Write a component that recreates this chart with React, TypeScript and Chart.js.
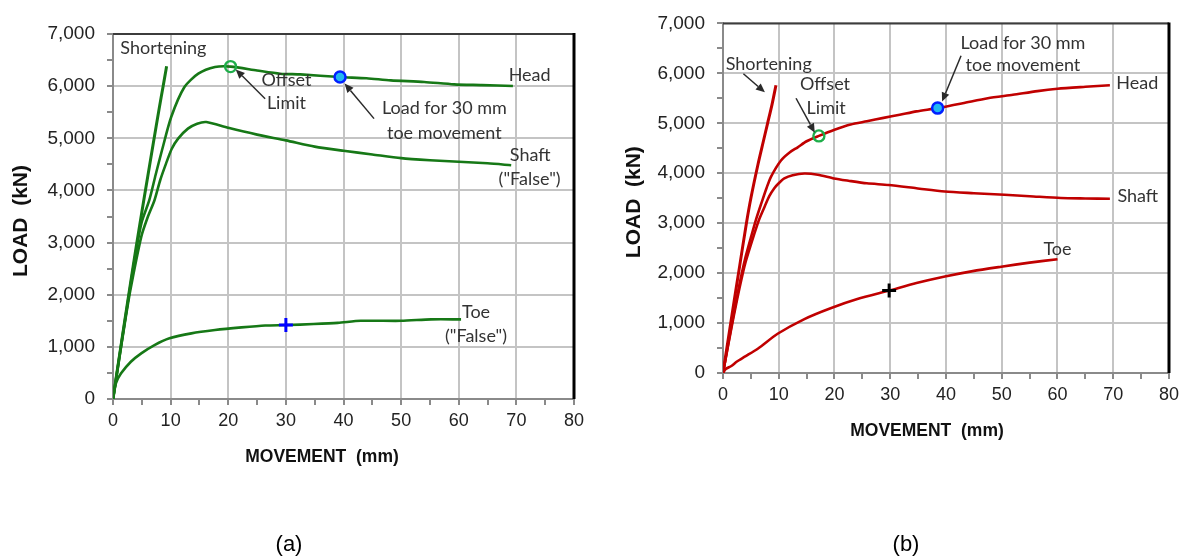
import React, { useEffect, useRef } from "react";
import { Chart, registerables } from "chart.js";

Chart.register(...registerables);

// ---------- Panel (a): movement (mm) vs load (kN) ----------
const shortA_mm = [0, 1, 2, 3, 4, 5, 6, 7, 8, 8.7, 9.1, 9.3];
const shortA_kN = [0, 740, 1470, 2190, 2900, 3580, 4250, 4910, 5560, 6000, 6250, 6380];

const headA_mm = [0, 1, 2, 3, 4.1, 5, 6.3, 7.4, 8.5, 10.1, 12.4, 14.8, 17.7, 20.4, 25, 29, 32.5, 39.4, 44, 48.2, 54, 59.2, 64, 69.4];
const headA_kN = [0, 740, 1460, 2160, 2900, 3400, 3812, 4300, 4770, 5408, 5983, 6239, 6366, 6375, 6300, 6239, 6225, 6175, 6150, 6111, 6080, 6034, 6020, 6002];

const shaftA_mm = [0, 1, 2, 3, 4.9, 6, 7.2, 8.2, 9.2, 10.2, 11.3, 13.0, 14.6, 16.2, 20, 25, 30, 35, 40, 45, 50, 55, 60, 65, 69.1];
const shaftA_kN = [0, 720, 1420, 2080, 3109, 3480, 3812, 4200, 4515, 4800, 4994, 5185, 5280, 5312, 5200, 5070, 4960, 4840, 4760, 4690, 4620, 4580, 4550, 4520, 4483];

const toeA_mm = [0, 0.5, 1.4, 3.1, 4.9, 7.2, 9.8, 13.6, 17.7, 22.3, 26.4, 30.1, 34.8, 39, 43, 50, 55.2, 60.4];
const toeA_kN = [0, 300, 492, 715, 875, 1034, 1163, 1259, 1322, 1373, 1410, 1418, 1437, 1460, 1500, 1500, 1527, 1527];

const offsetA = [20.4, 6375];
const load30A = [39.4, 6175];
const toe30A = [30, 1418];

// ---------- Panel (b) ----------
const shortB_mm = [0, 1, 2, 3, 4.2, 5, 6.3, 7.2, 8, 8.8, 9.5];
const shortB_kN = [0, 720, 1440, 2150, 3000, 3500, 4190, 4620, 5000, 5380, 5762];

const headB_mm = [0, 1, 2, 3, 4, 5.1, 6, 6.9, 7.8, 8.6, 10.4, 12, 13.4, 15, 17.2, 20, 22.9, 25.8, 28.8, 31.7, 34.7, 38.5, 43, 47.5, 52, 56.4, 60, 65, 69.4];
const headB_kN = [0, 620, 1230, 1800, 2300, 2750, 3100, 3405, 3700, 3929, 4256, 4420, 4519, 4640, 4747, 4870, 4976, 5040, 5108, 5170, 5238, 5304, 5400, 5501, 5570, 5644, 5690, 5730, 5762];

const shaftB_mm = [0, 1, 2, 3, 4, 5.7, 6.5, 7.5, 8.3, 9.2, 10, 11, 12.5, 14.6, 17, 19.9, 22.5, 25.8, 29.7, 34.7, 39.8, 45, 50.5, 55, 60.6, 65, 69.4];
const shaftB_kN = [0, 600, 1180, 1720, 2200, 2815, 3080, 3340, 3540, 3700, 3800, 3896, 3960, 3994, 3970, 3896, 3850, 3798, 3765, 3700, 3634, 3600, 3568, 3540, 3503, 3495, 3490];

const toeB_mm = [0, 0.5, 1.5, 2.5, 3.9, 6.3, 9.8, 14.6, 19.3, 24.1, 29.8, 34.7, 39.8, 44.8, 49.9, 55, 60];
const toeB_kN = [0, 80, 140, 230, 326, 491, 786, 1080, 1297, 1480, 1650, 1800, 1931, 2040, 2128, 2210, 2279];

const offsetB = [17.2, 4747];
const load30B = [38.5, 5304];
const toe30B = [29.8, 1650];

// ---------- Axis setup ----------
const X_MIN = 0, X_MAX = 80, X_STEP = 5, X_LABEL_EVERY = 10;
const Y_MIN = 0, Y_MAX = 7000, Y_STEP = 500, Y_LABEL_EVERY = 1000;
const X_TITLE = "MOVEMENT  (mm)";
const Y_TITLE = "LOAD  (kN)";

const SANS = "'Liberation Sans', Arial, sans-serif";
const NOTE_FONT = "Lato, 'Open Sans', sans-serif";
const GRID = "#c4c4c4";
const AXIS = "#8a8a8a";

type Note = { text: string; at: number[] };
type Arrow = { from: number[]; to: number[] };

const pts = (xs: number[], ys: number[]) => xs.map((x, i) => ({ x, y: ys[i] }));

const panelA = {
  color: "#167816",
  width: 600,
  left: 0,
  padding: { left: 0, top: 34, right: 26, bottom: 0 },
  yAxisWidth: 113,
  xAxisHeight: 160,
  series: [
    pts(shortA_mm, shortA_kN),
    pts(headA_mm, headA_kN),
    pts(shaftA_mm, shaftA_kN),
    pts(toeA_mm, toeA_kN),
  ],
  offset: offsetA,
  load30: load30A,
  toe30: toe30A,
  toeMarkColor: "#0000ff",
  notes: [
    { text: "Shortening", at: [8.75, 6724] },
    { text: "Offset", at: [30.1, 6111] },
    { text: "Limit", at: [30.1, 5670] },
    { text: "Load for 30 mm", at: [57.5, 5575] },
    { text: "toe movement", at: [57.5, 5090] },
    { text: "Head", at: [72.3, 6207] },
    { text: "Shaft", at: [72.4, 4674] },
    { text: '("False")', at: [72.3, 4209] },
    { text: "Toe", at: [63.0, 1672] },
    { text: '("False")', at: [63.0, 1207] },
  ] as Note[],
  arrows: [
    { from: [26.4, 5760], to: [21.3, 6320] },
    { from: [45.3, 5377], to: [40.2, 6050] },
  ] as Arrow[],
  xTitle: { dx: 209, dy: 58.5 },
  yTitle: { dx: -92, dy: 4.5 },
  caption: { text: "(a)", x: 289, y: 545 },
};

const panelB = {
  color: "#c00000",
  width: 584,
  left: 600,
  padding: { left: 0, top: 17, right: 11, bottom: 0 },
  yAxisWidth: 123,
  xAxisHeight: 186,
  series: [
    pts(shortB_mm, shortB_kN),
    pts(headB_mm, headB_kN),
    pts(shaftB_mm, shaftB_kN),
    pts(toeB_mm, toeB_kN),
  ],
  offset: offsetB,
  load30: load30B,
  toe30: toe30B,
  toeMarkColor: "#000000",
  notes: [
    { text: "Shortening", at: [8.2, 6189] },
    { text: "Offset", at: [18.3, 5776] },
    { text: "Limit", at: [18.5, 5305] },
    { text: "Load for 30 mm", at: [53.8, 6613] },
    { text: "toe movement", at: [53.8, 6155] },
    { text: "Head", at: [74.3, 5796] },
    { text: "Shaft", at: [74.4, 3548] },
    { text: "Toe", at: [60.0, 2487] },
  ] as Note[],
  arrows: [
    { from: [3.66, 5992], to: [7.52, 5619] },
    { from: [13.1, 5501], to: [16.46, 4813] },
    { from: [42.7, 6352], to: [39.3, 5434] },
  ] as Arrow[],
  xTitle: { dx: 204, dy: 58.4 },
  yTitle: { dx: -88.7, dy: 4 },
  caption: { text: "(b)", x: 306, y: 545 },
};

type Panel = typeof panelA;

function makeDecor(p: Panel) {
  return {
    id: "panelDecor",
    afterDraw(chart: Chart) {
      const { ctx, chartArea: a, scales } = chart as any;
      const X = (v: number) => scales.x.getPixelForValue(v);
      const Y = (v: number) => scales.y.getPixelForValue(v);
      ctx.save();

      // frame: top and right edges of the plot box
      ctx.lineCap = "butt";
      ctx.strokeStyle = "#3c3c3c";
      ctx.lineWidth = 2;
      ctx.beginPath();
      ctx.moveTo(a.left, a.top);
      ctx.lineTo(a.right, a.top);
      ctx.stroke();
      ctx.strokeStyle = "#000";
      ctx.lineWidth = 3;
      ctx.beginPath();
      ctx.moveTo(a.right, a.top - 1);
      ctx.lineTo(a.right, a.bottom);
      ctx.stroke();

      // leader arrows
      ctx.strokeStyle = "#2a2a2a";
      ctx.fillStyle = "#2a2a2a";
      ctx.lineWidth = 1.5;
      for (const ar of p.arrows) {
        const x0 = X(ar.from[0]), y0 = Y(ar.from[1]);
        const x1 = X(ar.to[0]), y1 = Y(ar.to[1]);
        const ang = Math.atan2(y1 - y0, x1 - x0);
        const head = 9, half = 4;
        const bx = x1 - head * Math.cos(ang), by = y1 - head * Math.sin(ang);
        ctx.beginPath();
        ctx.moveTo(x0, y0);
        ctx.lineTo(bx, by);
        ctx.stroke();
        ctx.beginPath();
        ctx.moveTo(x1, y1);
        ctx.lineTo(bx + half * Math.sin(ang), by - half * Math.cos(ang));
        ctx.lineTo(bx - half * Math.sin(ang), by + half * Math.cos(ang));
        ctx.closePath();
        ctx.fill();
      }

      // text notes
      ctx.fillStyle = "#333";
      ctx.font = `18px ${NOTE_FONT}`;
      ctx.textAlign = "center";
      ctx.textBaseline = "middle";
      for (const n of p.notes) ctx.fillText(n.text, X(n.at[0]), Y(n.at[1]));

      // axis titles
      ctx.fillStyle = "#111";
      ctx.font = `bold 17.5px ${SANS}`;
      ctx.fillText(X_TITLE, a.left + p.xTitle.dx, a.bottom + p.xTitle.dy);
      ctx.save();
      ctx.translate(a.left + p.yTitle.dx, (a.top + a.bottom) / 2 + p.yTitle.dy);
      ctx.rotate(-Math.PI / 2);
      ctx.font = `bold 21px ${SANS}`;
      ctx.fillText(Y_TITLE, 0, 0);
      ctx.restore();

      // panel caption
      ctx.font = `22px ${SANS}`;
      ctx.fillStyle = "#000";
      ctx.fillText(p.caption.text, p.caption.x, p.caption.y);
      ctx.restore();
    },
  };
}

function makeConfig(p: Panel): any {
  const lines = p.series.map((data, i) => ({
    label: ["Shortening", "Head", "Shaft", "Toe"][i],
    data,
    showLine: true,
    borderColor: p.color,
    borderWidth: i === 0 ? 3 : 2.6,
    pointRadius: 0,
    tension: 0.25,
    fill: false,
    order: 2,
  }));
  const marks = [
    {
      label: "offset",
      data: [{ x: p.offset[0], y: p.offset[1] }],
      pointStyle: "circle",
      pointRadius: 5.5,
      pointBorderWidth: 2.4,
      pointBorderColor: "#1fae4a",
      pointBackgroundColor: "rgba(255,255,255,0)",
      order: 0,
    },
    {
      label: "load30",
      data: [{ x: p.load30[0], y: p.load30[1] }],
      pointStyle: "circle",
      pointRadius: 5.5,
      pointBorderWidth: 2.5,
      pointBorderColor: "#0020ff",
      pointBackgroundColor: "#22b8f0",
      order: 0,
    },
    {
      label: "toe30",
      data: [{ x: p.toe30[0], y: p.toe30[1] }],
      pointStyle: "cross",
      pointRadius: 7,
      pointBorderWidth: 3,
      pointBorderColor: p.toeMarkColor,
      order: 0,
    },
  ];
  return {
    type: "scatter",
    data: { datasets: [...marks, ...lines] },
    options: {
      animation: false,
      responsive: false,
      events: [],
      layout: { padding: p.padding },
      plugins: { legend: { display: false }, tooltip: { enabled: false } },
      scales: {
        x: {
          type: "linear",
          min: X_MIN,
          max: X_MAX,
          afterFit: (s: any) => {
            s.height = p.xAxisHeight;
          },
          ticks: {
            stepSize: X_STEP,
            autoSkip: false,
            maxRotation: 0,
            padding: 5,
            color: "#222",
            font: { family: SANS, size: 18 },
            callback: (v: number) => (v % X_LABEL_EVERY === 0 ? String(v) : ""),
          },
          grid: {
            color: (c: any) => (c.tick && c.tick.value % X_LABEL_EVERY === 0 ? GRID : "rgba(0,0,0,0)"),
            lineWidth: 2,
            tickLength: 6,
            tickColor: AXIS,
            tickWidth: 2,
          },
          border: { color: AXIS, width: 2 },
        },
        y: {
          type: "linear",
          min: Y_MIN,
          max: Y_MAX,
          afterFit: (s: any) => {
            s.width = p.yAxisWidth;
          },
          ticks: {
            stepSize: Y_STEP,
            autoSkip: false,
            padding: 12,
            color: "#222",
            font: { family: SANS, size: 19 },
            callback: (v: number) => (v % Y_LABEL_EVERY === 0 ? v.toLocaleString("en-US") : ""),
          },
          grid: {
            color: (c: any) => (c.tick && c.tick.value % Y_LABEL_EVERY === 0 ? GRID : "rgba(0,0,0,0)"),
            lineWidth: 2,
            tickLength: 6,
            tickColor: AXIS,
            tickWidth: 2,
          },
          border: { color: AXIS, width: 2 },
        },
      },
    },
    plugins: [makeDecor(p)],
  };
}

function LoadPanel({ panel }: { panel: Panel }) {
  const ref = useRef<HTMLCanvasElement | null>(null);
  useEffect(() => {
    if (!ref.current) return;
    const chart = new Chart(ref.current, makeConfig(panel));
    return () => chart.destroy();
  }, [panel]);
  return (
    <canvas
      ref={ref}
      width={panel.width}
      height={559}
      style={{ position: "absolute", left: panel.left, top: 0, width: panel.width, height: 559 }}
    />
  );
}

export default function App() {
  return (
    <div style={{ position: "absolute", left: 0, top: 0, width: 1184, height: 559, background: "#fff" }}>
      <LoadPanel panel={panelA} />
      <LoadPanel panel={panelB} />
    </div>
  );
}
